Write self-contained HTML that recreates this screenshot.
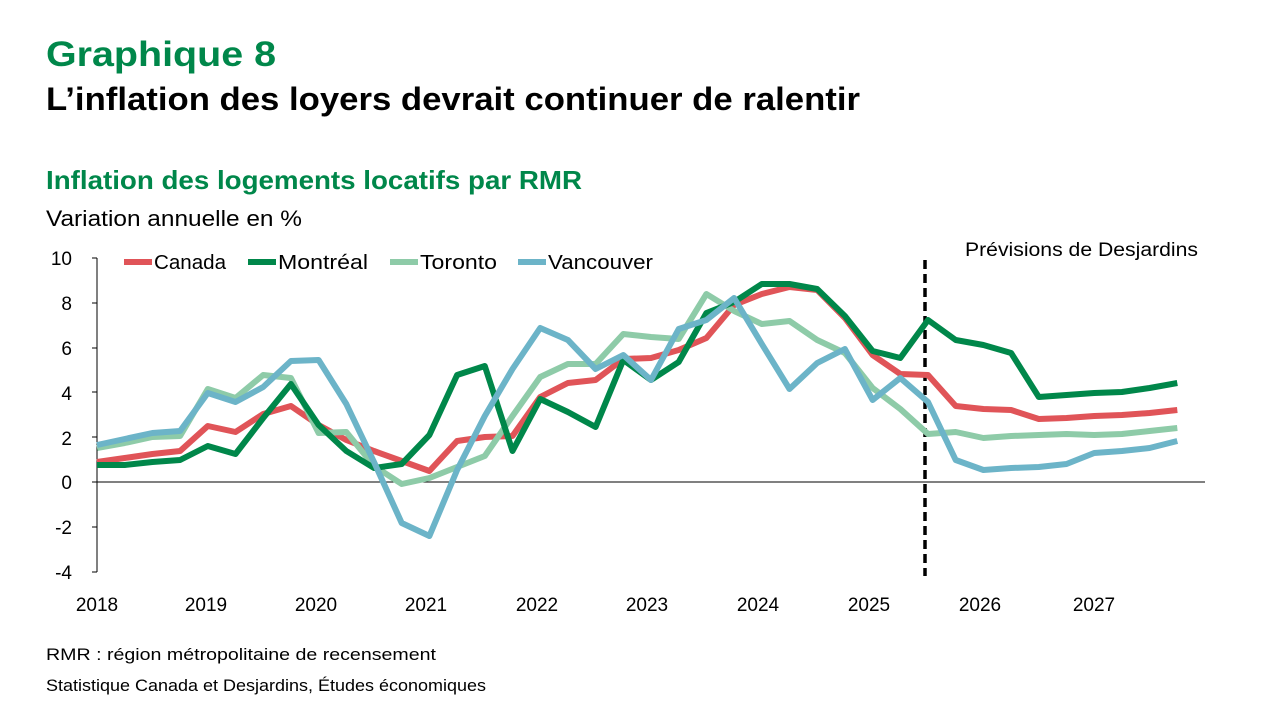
<!DOCTYPE html>
<html><head><meta charset="utf-8"><style>
body{margin:0;width:1280px;height:720px;background:#fff;overflow:hidden;font-family:"Liberation Sans",sans-serif}
</style></head><body>
<svg width="1280" height="720" viewBox="0 0 1280 720" xmlns="http://www.w3.org/2000/svg" font-family="Liberation Sans, sans-serif">
<text x="46" y="66" font-size="35" font-weight="bold" fill="#00874a" textLength="230" lengthAdjust="spacingAndGlyphs">Graphique 8</text>
<text x="46" y="110" font-size="32" font-weight="bold" fill="#000" textLength="814" lengthAdjust="spacingAndGlyphs">L’inflation des loyers devrait continuer de ralentir</text>
<text x="46" y="189" font-size="26" font-weight="bold" fill="#00874a" textLength="536" lengthAdjust="spacingAndGlyphs">Inflation des logements locatifs par RMR</text>
<text x="46" y="226" font-size="22" fill="#000" textLength="256" lengthAdjust="spacingAndGlyphs">Variation annuelle en %</text>
<g font-size="19" fill="#000" text-anchor="end">
<text x="72" y="265">10</text><text x="72" y="310">8</text><text x="72" y="355">6</text><text x="72" y="400">4</text><text x="72" y="445">2</text><text x="72" y="489">0</text><text x="72" y="534">-2</text><text x="72" y="579">-4</text>
</g>
<g font-size="19" fill="#000" text-anchor="middle">
<text x="97" y="611">2018</text><text x="206" y="611">2019</text><text x="316" y="611">2020</text><text x="426" y="611">2021</text><text x="537" y="611">2022</text><text x="647" y="611">2023</text><text x="758" y="611">2024</text><text x="869" y="611">2025</text><text x="980" y="611">2026</text><text x="1094" y="611">2027</text>
</g>
<g stroke="#000" stroke-width="1">
<line x1="97" y1="258" x2="97" y2="572"/>
<line x1="97" y1="482" x2="1205" y2="482"/>
<line x1="92" y1="258" x2="97" y2="258"/><line x1="92" y1="303" x2="97" y2="303"/><line x1="92" y1="348" x2="97" y2="348"/><line x1="92" y1="392" x2="97" y2="392"/><line x1="92" y1="437" x2="97" y2="437"/><line x1="92" y1="482" x2="97" y2="482"/><line x1="92" y1="527" x2="97" y2="527"/><line x1="92" y1="572" x2="97" y2="572"/>
</g>
<line x1="925" y1="260" x2="925" y2="576" stroke="#000" stroke-width="3.5" stroke-dasharray="9,5"/>
<text x="965" y="256" font-size="19" fill="#000" textLength="233" lengthAdjust="spacingAndGlyphs">Prévisions de Desjardins</text>
<g fill="none" stroke-width="6" stroke-linejoin="round" stroke-linecap="butt">
<polyline id="ca" stroke="#e05458" points=""/>
<polyline id="to" stroke="#8ecba8" points=""/>
<polyline id="mo" stroke="#00874a" points=""/>
<polyline id="va" stroke="#6cb4c8" points=""/>
</g>
<g font-size="20" fill="#000">
<line x1="124" y1="262" x2="152" y2="262" stroke="#e05458" stroke-width="6"/><text x="154" y="269" textLength="72" lengthAdjust="spacingAndGlyphs">Canada</text>
<line x1="248" y1="262" x2="276" y2="262" stroke="#00874a" stroke-width="6"/><text x="278" y="269" textLength="90" lengthAdjust="spacingAndGlyphs">Montréal</text>
<line x1="390" y1="262" x2="418" y2="262" stroke="#8ecba8" stroke-width="6"/><text x="420" y="269" textLength="77" lengthAdjust="spacingAndGlyphs">Toronto</text>
<line x1="518" y1="262" x2="546" y2="262" stroke="#6cb4c8" stroke-width="6"/><text x="548" y="269" textLength="105" lengthAdjust="spacingAndGlyphs">Vancouver</text>
</g>
<text x="46" y="660" font-size="17" fill="#000" textLength="390" lengthAdjust="spacingAndGlyphs">RMR : région métropolitaine de recensement</text>
<text x="46" y="691" font-size="17" fill="#000" textLength="440" lengthAdjust="spacingAndGlyphs">Statistique Canada et Desjardins, Études économiques</text>
</svg>
<script>
const d={
ca:[462,458,454,451,426,432,414,406,425,440,451,461,471,441,437,436,397,383,380,359,358,350,338,305,294,287,290,318,355,374,375,406,409,410,419,418,416,415,413,410],
mo:[465,465,462,460,446,454,418,384,425,451,468,464,435,375,366,451,399,412,427,360,380,362,313,302,284,284,289,316,351,358,320,340,345,353,397,395,393,392,388,383],
to:[448,443,437,436,389,398,375,378,433,432,466,484,478,467,456,416,377,364,364,334,337,339,294,311,324,321,340,353,388,409,434,432,438,436,435,434,435,434,431,428],
va:[445,439,433,431,393,402,387,361,360,404,462,523,536,470,416,369,328,340,369,355,380,329,320,298,344,389,363,349,400,378,402,460,470,468,467,464,453,451,448,441]};
for(const k in d){document.getElementById(k).setAttribute('points',d[k].map((y,i)=>(97+i*27.7).toFixed(1)+','+y).join(' '));}
</script>
</body></html>
